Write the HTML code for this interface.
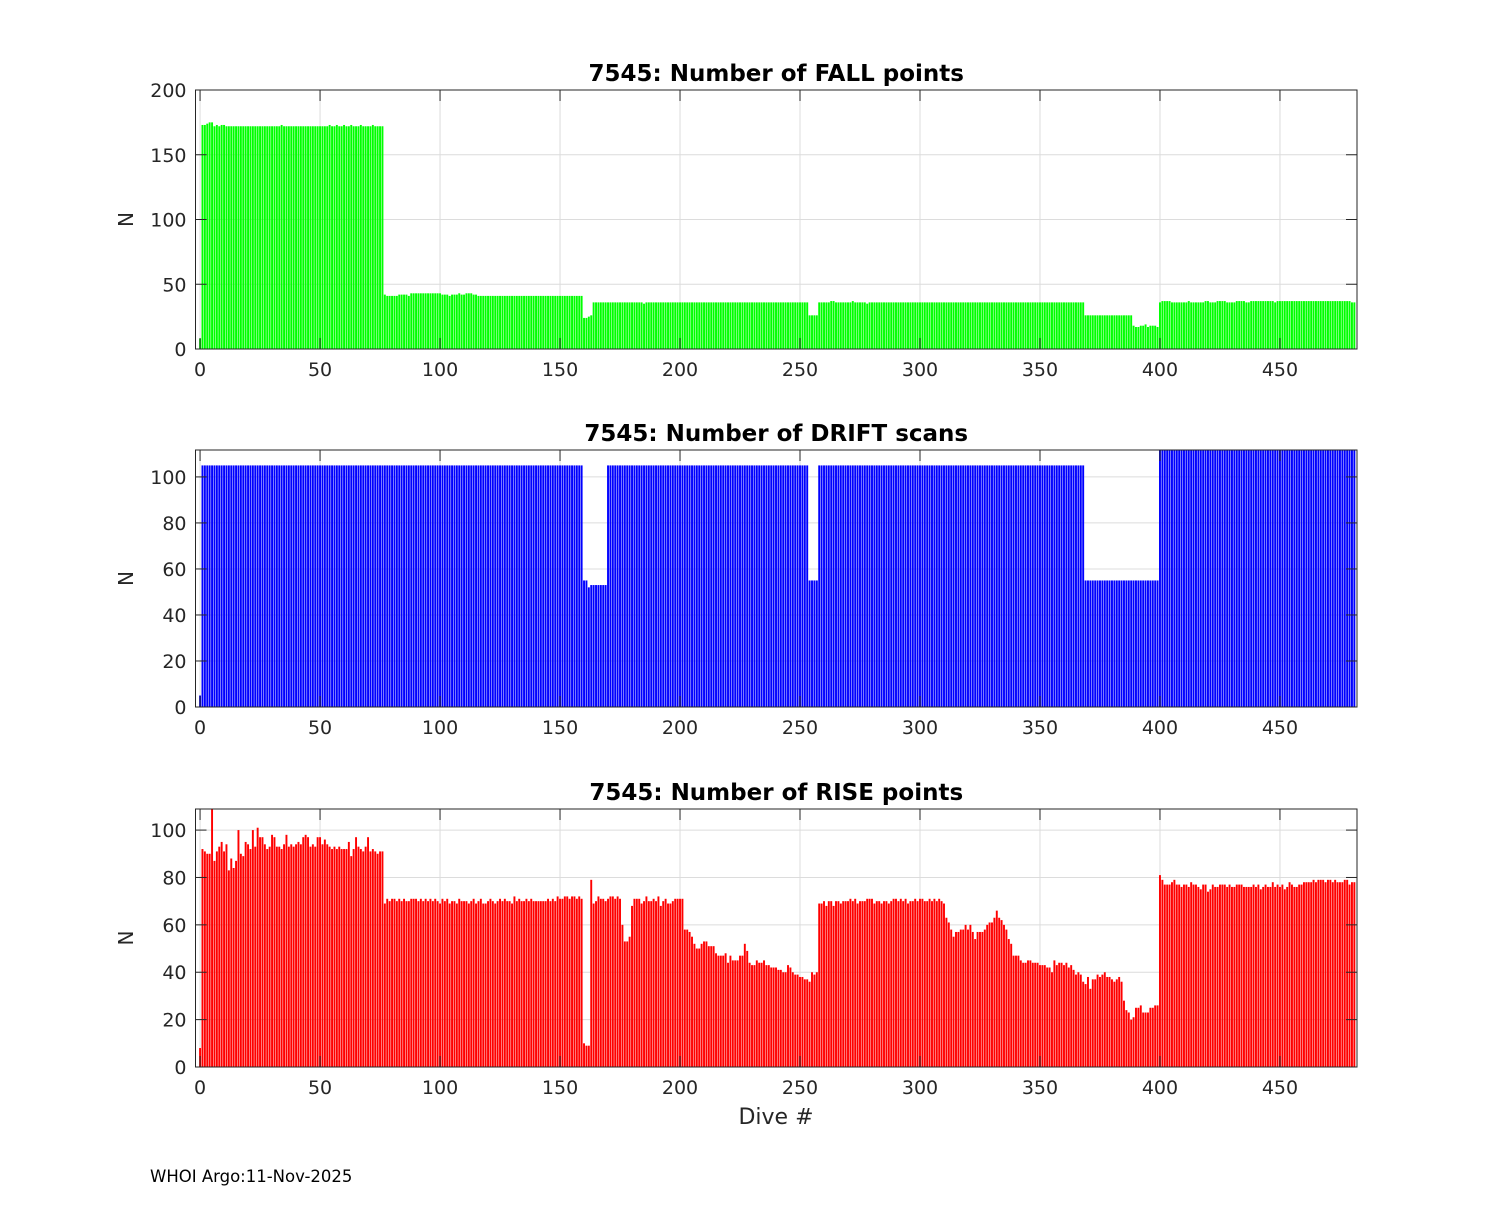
<!DOCTYPE html>
<html><head><meta charset="utf-8"><style>
body{margin:0;background:#fff;width:1500px;height:1200px;overflow:hidden}
svg text{font-family:"DejaVu Sans","Liberation Sans",sans-serif;fill:#262626}
</style></head><body>
<svg id="chart" width="1500" height="1200" xmlns="http://www.w3.org/2000/svg"></svg>
<script>
const xTicks=[0,50,100,150,200,250,300,350,400,450];
const fallTicks=[0,50,100,150,200];
const driftTicks=[0,20,40,60,80,100];
const riseTicks=[0,20,40,60,80,100];
const fallValues=[
8,173,173,174,175,175,172,173,172,173,
173,172,172,172,172,172,172,172,172,172,
172,172,172,172,172,172,172,172,172,172,
172,172,172,172,173,172,172,172,172,172,
172,172,172,172,172,172,172,172,172,172,
172,172,172,172,173,172,172,173,172,172,
173,172,172,173,172,172,172,173,172,172,
172,172,173,172,172,172,172,42,41,41,
41,41,41,42,42,42,42,41,43,43,
43,43,43,43,43,43,43,43,43,43,
43,42,42,42,41,42,42,42,43,42,
42,43,43,43,42,42,41,41,41,41,
41,41,41,41,41,41,41,41,41,41,
41,41,41,41,41,41,41,41,41,41,
41,41,41,41,41,41,41,41,41,41,
41,41,41,41,41,41,41,41,41,41,
24,24,25,26,36,36,36,36,36,36,
36,36,36,36,36,36,36,36,36,36,
36,36,36,36,36,35,36,36,36,36,
36,36,36,36,36,36,36,36,36,36,
36,36,36,36,36,36,36,36,36,36,
36,36,36,36,36,36,36,36,36,36,
36,36,36,36,36,36,36,36,36,36,
36,36,36,36,36,36,36,36,36,36,
36,36,36,36,36,36,36,36,36,36,
36,36,36,36,26,26,26,26,36,36,
36,36,36,37,37,36,36,36,36,36,
36,36,37,36,36,36,36,36,35,36,
36,36,36,36,36,36,36,36,36,36,
36,36,36,36,36,36,36,36,36,36,
36,36,36,36,36,36,36,36,36,36,
36,36,36,36,36,36,36,36,36,36,
36,36,36,36,36,36,36,36,36,36,
36,36,36,36,36,36,36,36,36,36,
36,36,36,36,36,36,36,36,36,36,
36,36,36,36,36,36,36,36,36,36,
36,36,36,36,36,36,36,36,36,26,
26,26,26,26,26,26,26,26,26,26,
26,26,26,26,26,26,26,26,26,18,
17,17,18,18,19,17,18,18,18,17,
36,37,37,37,37,36,36,36,36,36,
36,36,37,36,36,36,36,36,36,37,
37,36,36,36,37,37,37,37,36,36,
36,36,37,37,37,37,36,36,37,37,
37,37,37,37,37,37,37,37,36,37,
37,37,37,37,37,37,37,37,37,37,
37,37,37,37,37,37,37,37,37,37,
37,37,37,37,37,37,37,37,37,37,
36,36];
const driftValues=[
5,105,105,105,105,105,105,105,105,105,
105,105,105,105,105,105,105,105,105,105,
105,105,105,105,105,105,105,105,105,105,
105,105,105,105,105,105,105,105,105,105,
105,105,105,105,105,105,105,105,105,105,
105,105,105,105,105,105,105,105,105,105,
105,105,105,105,105,105,105,105,105,105,
105,105,105,105,105,105,105,105,105,105,
105,105,105,105,105,105,105,105,105,105,
105,105,105,105,105,105,105,105,105,105,
105,105,105,105,105,105,105,105,105,105,
105,105,105,105,105,105,105,105,105,105,
105,105,105,105,105,105,105,105,105,105,
105,105,105,105,105,105,105,105,105,105,
105,105,105,105,105,105,105,105,105,105,
105,105,105,105,105,105,105,105,105,105,
55,55,52,53,53,53,53,53,53,53,
105,105,105,105,105,105,105,105,105,105,
105,105,105,105,105,105,105,105,105,105,
105,105,105,105,105,105,105,105,105,105,
105,105,105,105,105,105,105,105,105,105,
105,105,105,105,105,105,105,105,105,105,
105,105,105,105,105,105,105,105,105,105,
105,105,105,105,105,105,105,105,105,105,
105,105,105,105,105,105,105,105,105,105,
105,105,105,105,55,55,55,55,105,105,
105,105,105,105,105,105,105,105,105,105,
105,105,105,105,105,105,105,105,105,105,
105,105,105,105,105,105,105,105,105,105,
105,105,105,105,105,105,105,105,105,105,
105,105,105,105,105,105,105,105,105,105,
105,105,105,105,105,105,105,105,105,105,
105,105,105,105,105,105,105,105,105,105,
105,105,105,105,105,105,105,105,105,105,
105,105,105,105,105,105,105,105,105,105,
105,105,105,105,105,105,105,105,105,105,
105,105,105,105,105,105,105,105,105,55,
55,55,55,55,55,55,55,55,55,55,
55,55,55,55,55,55,55,55,55,55,
55,55,55,55,55,55,55,55,55,55,
112,112,112,112,112,112,112,112,112,112,
112,112,112,112,112,112,112,112,112,112,
112,112,112,112,112,112,112,112,112,112,
112,112,112,112,112,112,112,112,112,112,
112,112,112,112,112,112,112,112,112,112,
112,112,112,112,112,112,112,112,112,112,
112,112,112,112,112,112,112,112,112,112,
112,112,112,112,112,112,112,112,112,112,
112,112];
const riseValues=[
8,92,91,90,90,115,87,91,93,95,
91,94,83,88,84,87,100,90,89,95,
94,92,100,93,101,97,97,94,92,93,
98,97,93,93,92,94,98,93,94,93,
94,95,94,97,98,97,93,94,93,97,
97,94,96,94,93,92,93,92,93,92,
92,92,95,89,92,97,93,92,91,93,
97,91,92,91,90,91,91,69,71,70,
71,71,70,71,70,71,70,70,71,71,
71,70,71,70,71,70,71,70,71,70,
69,71,70,71,69,70,70,69,71,70,
70,70,69,70,71,69,70,71,69,69,
70,71,70,69,70,71,70,71,70,70,
69,72,70,71,70,70,71,70,71,70,
70,70,70,70,70,71,70,71,70,72,
71,71,72,72,71,72,72,71,72,71,
10,9,9,79,69,70,72,71,71,70,
71,72,72,71,72,71,60,53,53,55,
68,71,71,71,69,70,72,70,70,71,
70,72,68,70,71,69,69,70,71,71,
71,71,58,58,57,55,52,50,50,52,
53,53,51,51,51,48,47,47,47,48,
44,47,45,45,45,47,47,52,49,44,
43,43,45,44,44,45,43,43,42,42,
42,41,41,40,40,43,42,40,39,39,
38,38,37,37,36,40,39,40,69,69,
70,68,70,70,68,70,70,69,70,70,
70,71,70,71,69,70,70,70,71,71,
71,69,70,70,69,70,70,69,70,71,
71,70,71,70,71,69,70,70,71,70,
71,71,70,70,71,70,71,70,71,70,
69,63,61,58,55,57,57,58,58,60,
58,60,57,54,57,57,57,58,60,61,
61,63,66,63,62,60,58,54,52,47,
47,47,45,44,44,45,45,44,44,44,
43,43,43,42,42,40,45,43,44,44,
43,44,42,43,41,39,40,39,36,35,
38,33,37,37,39,38,39,40,38,38,
37,36,37,38,36,28,24,23,20,21,
25,25,26,23,23,23,25,25,26,26,
81,79,77,77,77,78,79,77,77,76,
77,77,76,78,77,77,76,75,77,77,
74,75,77,76,76,77,77,77,76,77,
76,76,77,77,77,76,76,76,76,77,
76,77,75,76,77,76,76,78,76,77,
76,77,75,76,78,77,76,76,77,77,
78,78,78,78,79,78,79,79,79,78,
79,79,78,79,78,78,78,79,79,77,
78,78];

const NS="http://www.w3.org/2000/svg";
const svg=document.getElementById('chart');
function el(tag,attrs,parent){const e=document.createElementNS(NS,tag);for(const k in attrs)e.setAttribute(k,attrs[k]);(parent||svg).appendChild(e);return e;}
const L=195.5,R=1357,XMIN=-1.9,XMAX=482.1;
function xs(v){return L+(v-XMIN)*(R-L)/(XMAX-XMIN);}

function panel(name,top,bottom,ymax,yTicks,values,color,title){
  const g=el('g',{});
  
  
  const ys=v=>bottom-Math.min(v,ymax)*(bottom-top)/ymax;
  xTicks.forEach(t=>{
    const l=el('line',{x1:xs(t),x2:xs(t),y1:top,y2:bottom,stroke:'#dcdcdc','stroke-width':1},g);
    
    
  });
  yTicks.forEach(t=>{
    const l=el('line',{x1:L,x2:R,y1:ys(t),y2:ys(t),stroke:'#dcdcdc','stroke-width':1},g);
    
    
  });
  values.forEach((v,i)=>{
    if(v<=0)return;
    const x0=xs(i-0.4),x1=xs(i+0.4);
    const r=el('rect',{x:x0,y:ys(v),width:x1-x0,height:bottom-ys(v),fill:color},g);
    
    
  });
  const b=el('rect',{x:L,y:top,width:R-L,height:bottom-top,fill:'none',stroke:'#262626','stroke-width':1},g);
  
  
  xTicks.forEach(t=>{
    el('line',{x1:xs(t),x2:xs(t),y1:bottom,y2:bottom-11,stroke:'#262626'},g);
    el('line',{x1:xs(t),x2:xs(t),y1:top,y2:top+11,stroke:'#262626'},g);
    const tx=el('text',{x:xs(t),y:bottom+27,'text-anchor':'middle','font-size':19},g);
    tx.textContent=t;
    
    
  });
  yTicks.forEach(t=>{
    el('line',{x1:L,x2:L+11,y1:ys(t),y2:ys(t),stroke:'#262626'},g);
    el('line',{x1:R,x2:R-11,y1:ys(t),y2:ys(t),stroke:'#262626'},g);
    const tx=el('text',{x:L-9,y:ys(t)+7,'text-anchor':'end','font-size':19},g);
    tx.textContent=t;
    
    
  });
  const tt=el('text',{x:(L+R)/2,y:top-9,'text-anchor':'middle','font-size':23,'font-weight':'bold'},g);
  tt.textContent=title;
  
  
  tt.style.fill='#000';
  const yl=el('text',{x:0,y:0,'text-anchor':'middle','font-size':20,transform:`translate(133,${(top+bottom)/2}) rotate(-90)`},g);
  yl.textContent='N';
  
  
}
panel('fall',90,349,200,fallTicks,fallValues,'#00ff00','7545: Number of FALL points');
panel('drift',450,707,111.7,driftTicks,driftValues,'#0000ff','7545: Number of DRIFT scans');
panel('rise',809,1067,108.9,riseTicks,riseValues,'#ff0000','7545: Number of RISE points');
const xl=el('text',{x:776,y:1124,'text-anchor':'middle','font-size':22});
xl.textContent='Dive #';


const ft=el('text',{x:150,y:1182,'font-size':16.5});
ft.textContent='WHOI Argo:11-Nov-2025';


ft.style.fill='#000';
</script>
</body></html>
